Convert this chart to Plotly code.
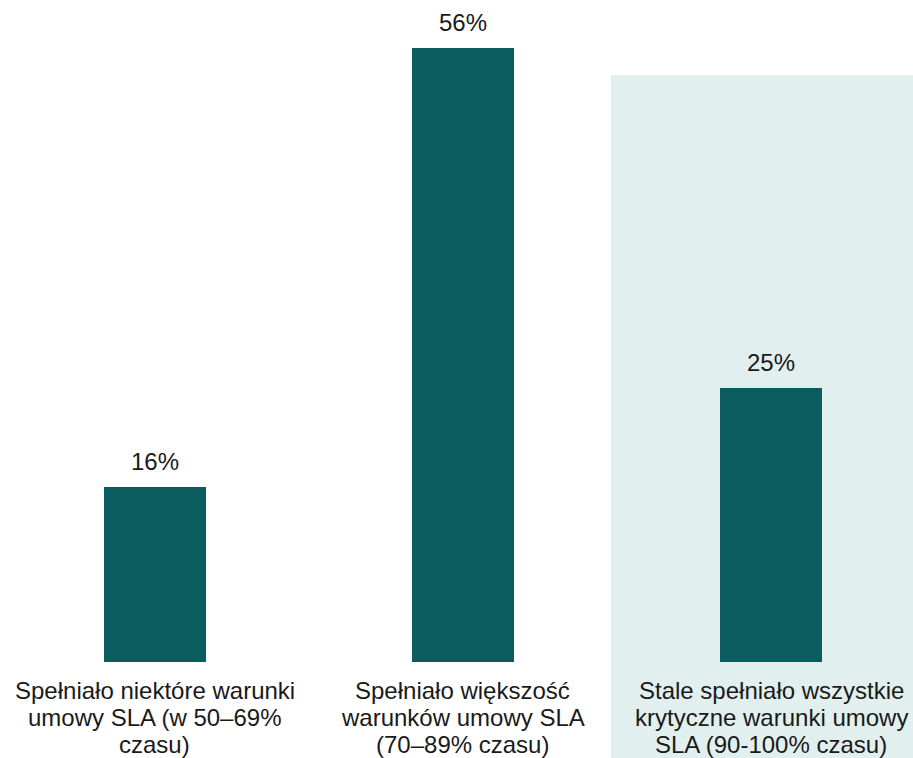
import plotly.graph_objects as go

categories = [
    ["Spełniało niektóre warunki", "umowy SLA (w 50–69%", "czasu)"],
    ["Spełniało większość", "warunków umowy SLA", "(70–89% czasu)"],
    ["Stale spełniało wszystkie", "krytyczne warunki umowy", "SLA (90-100% czasu)"],
]
values = [16, 56, 25]
value_labels = ["16%", "56%", "25%"]

bar_color = "#0b5c5f"
highlight_color = "#e2efef"
font_family = "Liberation Sans, Arial, sans-serif"
text_color = "#1a1a1a"

x_idx = list(range(len(categories)))

fig = go.Figure()
fig.add_trace(go.Bar(
    x=x_idx, y=values, width=0.33,
    marker=dict(color=bar_color, line=dict(width=0)),
    hoverinfo="skip",
))

for xi, v, t in zip(x_idx, values, value_labels):
    fig.add_annotation(x=xi, y=v, text=t, showarrow=False, yanchor="bottom",
                       yshift=10, font=dict(size=24, color=text_color, family=font_family))

for xi, lines in zip(x_idx, categories):
    for i, line in enumerate(lines):
        fig.add_annotation(x=xi, y=0, text=line, showarrow=False, yanchor="top",
                           yshift=-14 - 27 * i, borderpad=0,
                           font=dict(size=24, color=text_color, family=font_family))

fig.add_shape(type="rect", xref="paper", yref="paper",
              x0=0.669, x1=1.0, y0=-0.2, y1=0.892,
              fillcolor=highlight_color, line=dict(width=0), layer="below")

fig.update_layout(
    width=913, height=758,
    margin=dict(l=0, r=0, t=4, b=96),
    plot_bgcolor="rgba(0,0,0,0)", paper_bgcolor="white",
    showlegend=False, bargap=0,
    font=dict(family=font_family, size=24, color=text_color),
)
fig.update_xaxes(range=[-0.503, 2.461], tickvals=[], showgrid=False,
                 zeroline=False, showline=False, ticks="", showticklabels=False)
fig.update_yaxes(range=[0, 60], visible=False)

fig.write_html("out.html")
